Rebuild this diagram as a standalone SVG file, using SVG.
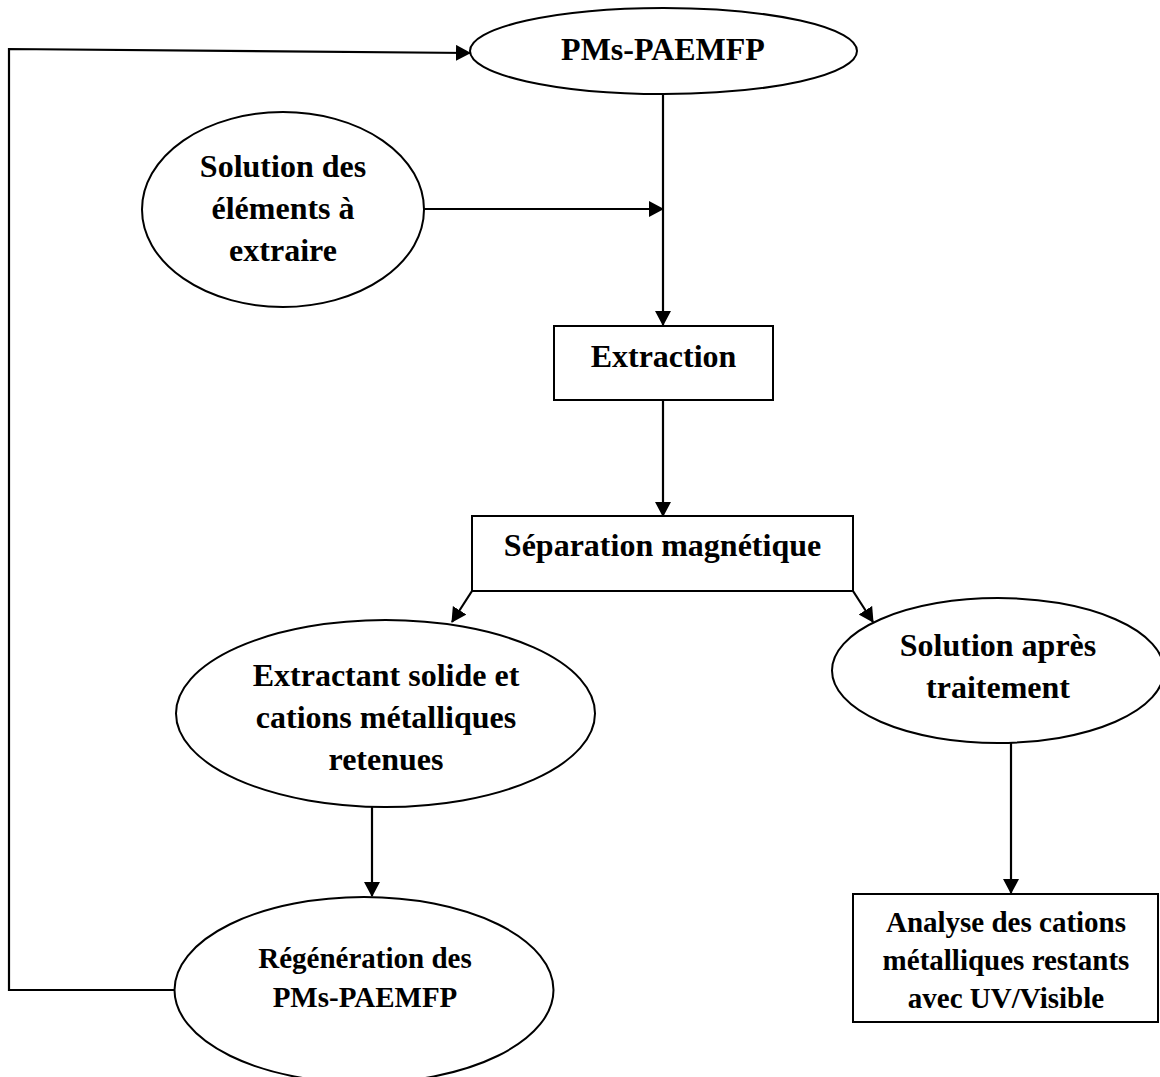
<svg xmlns="http://www.w3.org/2000/svg" width="1160" height="1077" viewBox="0 0 1160 1077">
<defs>
<marker id="arr" markerUnits="userSpaceOnUse" markerWidth="18" markerHeight="18" refX="14" refY="8" orient="auto">
<path d="M0,0 L15,8 L0,16 Z" fill="#000"/>
</marker>
<style>
.shape{fill:#fff;stroke:#000;stroke-width:2}
.conn{fill:none;stroke:#000;stroke-width:2.2}
.t{font-family:"Liberation Serif","Times New Roman",serif;font-weight:bold;fill:#000;text-anchor:middle}
.big{font-size:32px}
.mid{font-size:29px}
</style>
</defs>
<rect width="1160" height="1077" fill="#fff"/>
<g id="connectors">
<polyline class="conn" points="174,990 9,990 9,49 470,53" marker-end="url(#arr)"/>
<line class="conn" x1="663" y1="94" x2="663" y2="325" marker-end="url(#arr)"/>
<line class="conn" x1="424" y1="209" x2="663" y2="209" marker-end="url(#arr)"/>
<line class="conn" x1="663" y1="400" x2="663" y2="516" marker-end="url(#arr)"/>
<line class="conn" x1="472" y1="591" x2="452" y2="622" marker-end="url(#arr)"/>
<line class="conn" x1="853" y1="591" x2="873" y2="622" marker-end="url(#arr)"/>
<line class="conn" x1="372" y1="807" x2="372" y2="896" marker-end="url(#arr)"/>
<line class="conn" x1="1011" y1="743" x2="1011" y2="893" marker-end="url(#arr)"/>
</g>
<g id="pms">
<ellipse class="shape" cx="663.5" cy="51" rx="193.5" ry="43"/>
<text class="t big" x="663" y="60">PMs-PAEMFP</text>
</g>
<g id="solution">
<ellipse class="shape" cx="283" cy="209.5" rx="141" ry="97.5"/>
<text class="t big" x="283" y="177">Solution des</text>
<text class="t big" x="283" y="219">éléments à</text>
<text class="t big" x="283" y="261">extraire</text>
</g>
<g id="extraction">
<rect class="shape" x="554" y="326" width="219" height="74"/>
<text class="t big" x="663.5" y="367">Extraction</text>
</g>
<g id="separation">
<rect class="shape" x="472" y="516" width="381" height="75"/>
<text class="t big" x="662.5" y="556">Séparation magnétique</text>
</g>
<g id="extractant">
<ellipse class="shape" cx="385.5" cy="713.5" rx="209.5" ry="93.5"/>
<text class="t big" x="386" y="686">Extractant solide et</text>
<text class="t big" x="386" y="728">cations métalliques</text>
<text class="t big" x="386" y="770">retenues</text>
</g>
<g id="solution-apres">
<ellipse class="shape" cx="998" cy="670.5" rx="166" ry="72.5"/>
<text class="t big" x="998" y="656">Solution après</text>
<text class="t big" x="998" y="698">traitement</text>
</g>
<g id="regeneration">
<ellipse class="shape" cx="364" cy="990" rx="189.5" ry="93"/>
<text class="t mid" x="365" y="968">Régénération des</text>
<text class="t mid" x="365" y="1007">PMs-PAEMFP</text>
</g>
<g id="analyse">
<rect class="shape" x="853" y="894" width="305" height="128"/>
<text class="t mid" x="1006" y="932">Analyse des cations</text>
<text class="t mid" x="1006" y="970">métalliques restants</text>
<text class="t mid" x="1006" y="1008">avec UV/Visible</text>
</g>
</svg>
